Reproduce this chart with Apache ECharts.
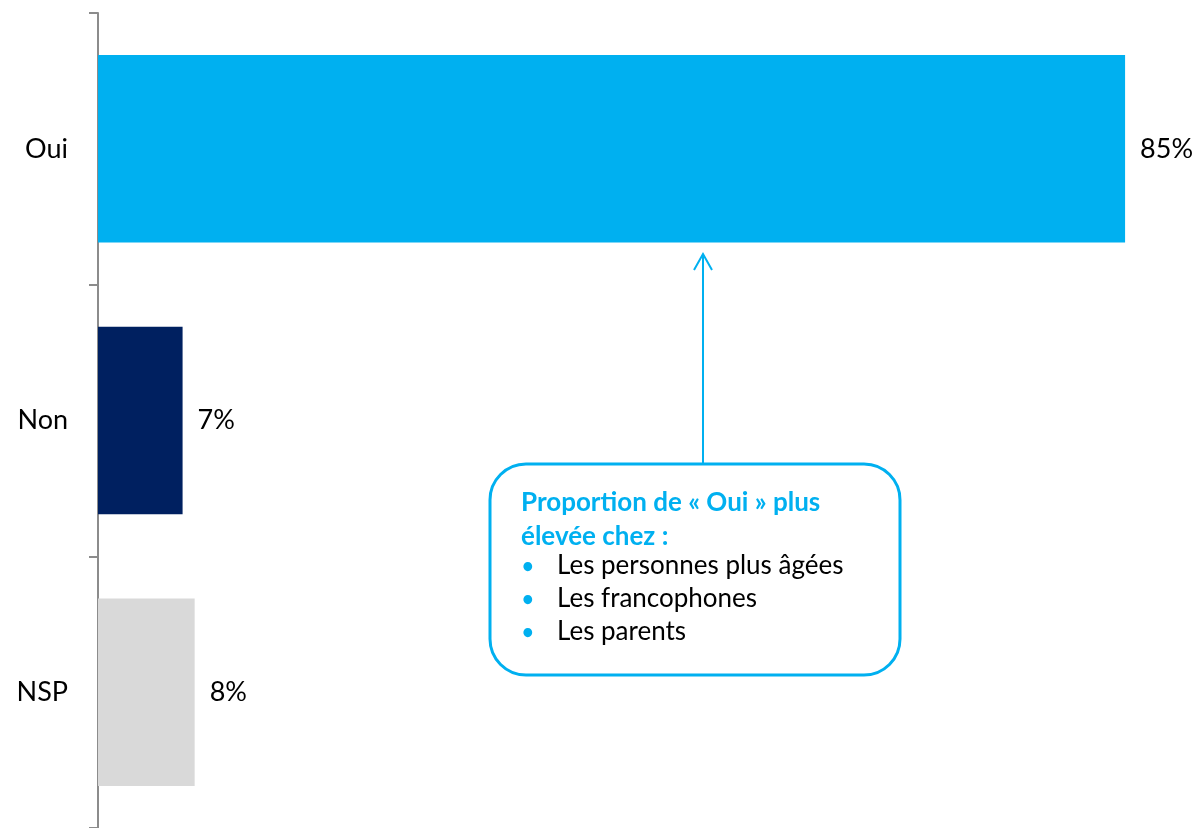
<!DOCTYPE html>
<html>
<head>
<meta charset="utf-8">
<script src="https://cdn.jsdelivr.net/npm/echarts@6/dist/echarts.min.js"></script>
<style>
  html, body { margin: 0; padding: 0; background: #fff; }
  #main { width: 1200px; height: 828px; }
</style>
</head>
<body>
<div id="main"></div>
<script>
var categories = ['Oui', 'Non', 'NSP'];
var values = [85, 7, 8];
var barColors = ['#00B0F0', '#002060', '#D9D9D9'];

var noteTitle = 'Proportion de « Oui » plus\nélevée chez :';
var noteItems = ['Les personnes plus âgées', 'Les francophones', 'Les parents'];

var chart = echarts.init(document.getElementById('main'));

var font = 'Lato, "Open Sans", sans-serif';
var blue = '#00B0F0';

var graphics = [
    {
        type: 'rect',
        shape: { x: 490, y: 464, width: 410, height: 211, r: 36 },
        style: { fill: '#fff', stroke: blue, lineWidth: 3 },
        z: 10
    },
    {
        type: 'line',
        shape: { x1: 703, y1: 464, x2: 703, y2: 254 },
        style: { stroke: blue, lineWidth: 2 },
        z: 10
    },
    {
        type: 'polyline',
        shape: { points: [[694, 270], [703, 254], [712, 270]] },
        style: { stroke: blue, lineWidth: 2, fill: null },
        z: 10
    },
    {
        type: 'text',
        left: 521, top: 486,
        style: { text: noteTitle, font: 'bold 26px ' + font, fill: blue, lineHeight: 34 },
        z: 11
    }
];

noteItems.forEach(function (t, i) {
    graphics.push({
        type: 'text', left: 522, top: 557 + i * 33,
        style: { text: '•', font: 'bold 20px ' + font, fill: blue }, z: 11
    });
    graphics.push({
        type: 'text', left: 557, top: 553 + i * 33,
        style: { text: t, font: '26px ' + font, fill: '#000' }, z: 11
    });
});

var option = {
    animation: false,
    grid: { left: 98, right: 0, top: 13, bottom: -4, containLabel: false },
    xAxis: {
        type: 'value',
        min: 0,
        max: 91.2,
        show: false
    },
    yAxis: {
        type: 'category',
        inverse: true,
        data: categories,
        axisLine: { show: true, lineStyle: { color: '#8c8c8c', width: 2 } },
        axisTick: { show: true, length: 9, lineStyle: { color: '#8c8c8c', width: 2 } },
        axisLabel: { margin: 30, fontSize: 27, color: '#000', fontFamily: font }
    },
    series: [{
        type: 'bar',
        barWidth: '69%',
        data: values.map(function (v, i) {
            return { value: v, itemStyle: { color: barColors[i] } };
        }),
        label: {
            show: true,
            position: 'right',
            distance: 15,
            formatter: '{c}%',
            fontSize: 27,
            color: '#000',
            fontFamily: font
        }
    }],
    graphic: graphics
};

chart.setOption(option);
</script>
</body>
</html>
